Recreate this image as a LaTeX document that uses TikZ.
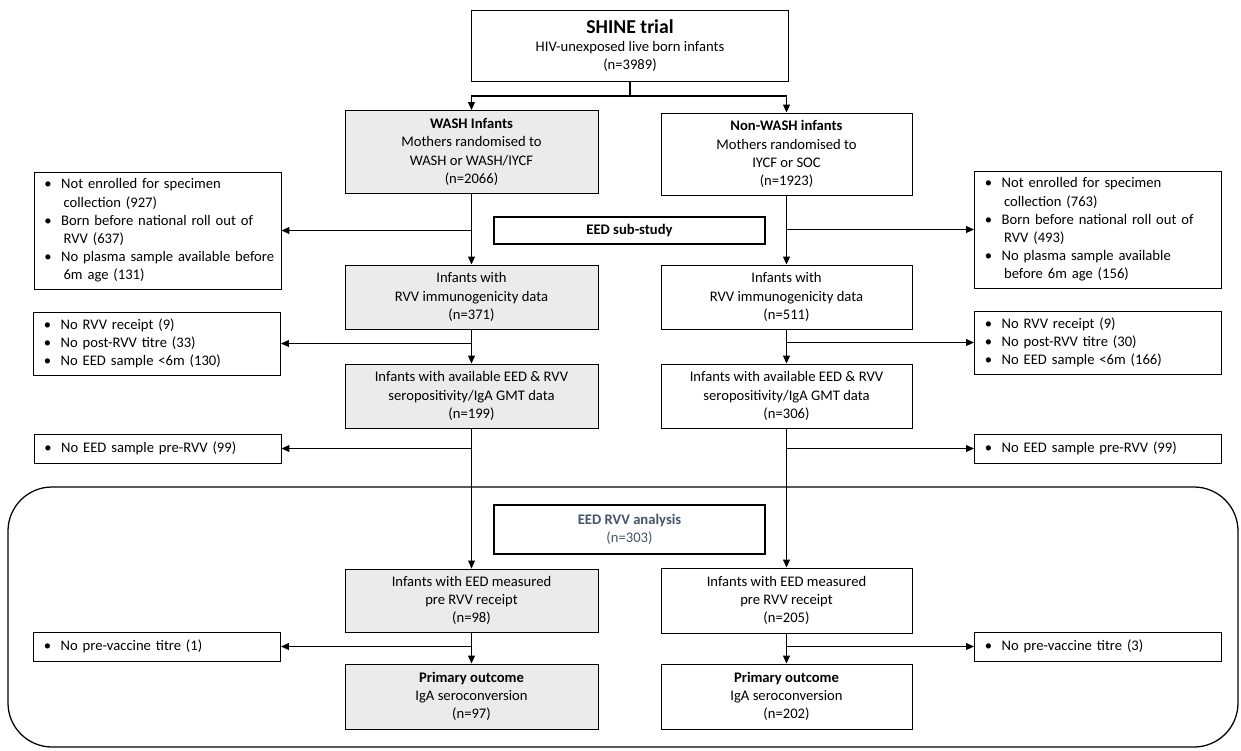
\documentclass[tikz,border=0pt]{standalone}
\usepackage{fontspec}
\setmainfont{Carlito}
\usetikzlibrary{arrows.meta}
\definecolor{boxgray}{RGB}{235,235,235}
\definecolor{slate}{RGB}{68,84,106}
\newcommand{\bul}{\makebox[0.42cm][l]{\textbullet}}
\newcommand{\ind}{\hspace*{0.48cm}}

\begin{document}
\begin{tikzpicture}
  [x=0.025cm, y=-0.025cm,
   every node/.style={font=\fontsize{10.4}{12.9}\selectfont},
   box/.style={draw, line width=0.6pt, align=center, inner sep=0pt},
   grey/.style={box, fill=boxgray, minimum width=6.325cm},
   plain/.style={box, minimum width=6.275cm},
   excl/.style={box, align=left, inner xsep=0.26cm, text width=5.655cm},
   heavy/.style={box, line width=1.8pt, minimum width=6.775cm},
   link/.style={line width=0.9pt},
   conn/.style={line width=0.9pt, -{Triangle[length=0.2cm, width=0.17cm]}},
   thinconn/.style={line width=0.5pt, -{Triangle[length=0.2cm, width=0.17cm]}}]
  \useasboundingbox (0,0) rectangle (1241,750);

  % trial and arms
  \node (shine) [box, minimum width=7.925cm, minimum height=1.775cm] at (630,45.5)
    {{\fontsize{14}{17}\selectfont\bfseries SHINE trial}\\HIV-unexposed live born infants\\(n=3989)};
  \node (wash) [grey, minimum height=2.075cm] at (471.5,152)
    {\textbf{WASH Infants}\\Mothers randomised to\\WASH or WASH/IYCF\\(n=2066)};
  \node (nonwash) [plain, minimum height=2.05cm] at (786.5,154)
    {\textbf{Non-WASH infants}\\Mothers randomised to\\IYCF or SOC\\(n=1923)};
  \node (substudy) [heavy, minimum height=0.675cm] at (629.5,230.5) {\textbf{EED sub-study}};

  % left column
  \node (rvvL) [grey, minimum height=1.6cm] at (471.5,297)
    {Infants with\\RVV immunogenicity data\\(n=371)};
  \node (eedL) [grey, minimum height=1.6cm] at (471.5,396)
    {Infants with available EED \& RVV\\seropositivity/IgA GMT data\\(n=199)};
  \node (measL) [grey, minimum height=1.575cm] at (471.5,600.5)
    {Infants with EED measured\\pre RVV receipt\\(n=98)};
  \node (primL) [grey, minimum height=1.625cm] at (471.5,696.5)
    {\textbf{Primary outcome}\\IgA seroconversion\\(n=97)};

  % right column
  \node (rvvR) [plain, minimum height=1.6cm] at (786.5,297)
    {Infants with\\RVV immunogenicity data\\(n=511)};
  \node (eedR) [plain, minimum height=1.6cm] at (786.5,396)
    {Infants with available EED \& RVV\\seropositivity/IgA GMT data\\(n=306)};
  \node (measR) [plain, minimum height=1.625cm] at (786.5,600.5)
    {Infants with EED measured\\pre RVV receipt\\(n=205)};
  \node (primR) [plain, minimum height=1.625cm] at (786.5,696.5)
    {\textbf{Primary outcome}\\IgA seroconversion\\(n=202)};

  % exclusions
  \node (exclL1) [excl, minimum height=2.925cm] at (157.5,230.5)
    {\bul Not enrolled for specimen\\\ind collection (927)\\\bul Born before national roll out of\\\ind RVV (637)\\\bul \mbox{No plasma sample available before}\\\ind 6m age (131)};
  \node (exclR1) [excl, minimum height=2.925cm] at (1098,229.5)
    {\bul Not enrolled for specimen\\\ind collection (763)\\\bul Born before national roll out of\\\ind RVV (493)\\\bul No plasma sample available\\\ind before 6m age (156)};
  \node (exclL2) [excl, minimum height=1.575cm] at (157,343.5)
    {\bul No RVV receipt (9)\\\bul No post-RVV titre (33)\\\bul No EED sample <6m (130)};
  \node (exclR2) [excl, minimum height=1.575cm] at (1098,342.5)
    {\bul No RVV receipt (9)\\\bul No post-RVV titre (30)\\\bul No EED sample <6m (166)};
  \node (exclL3) [excl, minimum height=0.725cm] at (157.5,448.5) {\bul No EED sample pre-RVV (99)};
  \node (exclR3) [excl, minimum height=0.725cm] at (1098,448.5) {\bul No EED sample pre-RVV (99)};
  \node (exclL4) [excl, minimum height=0.725cm] at (157,646.5) {\bul No pre-vaccine titre (1)};
  \node (exclR4) [excl, minimum height=0.725cm] at (1098,646.5) {\bul No pre-vaccine titre (3)};

  % analysis frame
  \draw [line width=0.9pt, rounded corners=1.1cm] (8,487) rectangle (1238,747);
  \node (analysis) [heavy, minimum height=1.225cm, text=slate] at (629.5,529.5)
    {\textbf{EED RVV analysis}\\(n=303)};

  % connectors
  \coordinate (split) at (630,96);
  \draw [link] (shine) -- (split);
  \draw [conn] (split) -| (wash);
  \draw [conn] (split) -| (nonwash);

  \draw [conn] (wash) -- (rvvL);
  \draw [conn] (wash.south |- exclL1.east) -- (exclL1);
  \draw [conn] (rvvL) -- (eedL);
  \draw [conn] (rvvL.south |- exclL2.east) -- (exclL2);
  \draw [thinconn] (eedL) -- (measL);
  \draw [conn] (eedL.south |- exclL3.east) -- (exclL3);
  \draw [conn] (measL) -- (primL);
  \draw [conn] (measL.south |- exclL4.east) -- (exclL4);

  \draw [conn] (nonwash) -- (rvvR);
  \draw [conn] (nonwash.south |- exclR1.west) -- (exclR1);
  \draw [conn] (rvvR) -- (eedR);
  \draw [conn] (rvvR.south |- exclR2.west) -- (exclR2);
  \draw [conn] (eedR) -- (measR);
  \draw [conn] (eedR.south |- exclR3.west) -- (exclR3);
  \draw [conn] (measR) -- (primR);
  \draw [conn] (measR.south |- exclR4.west) -- (exclR4);
\end{tikzpicture}
\end{document}
